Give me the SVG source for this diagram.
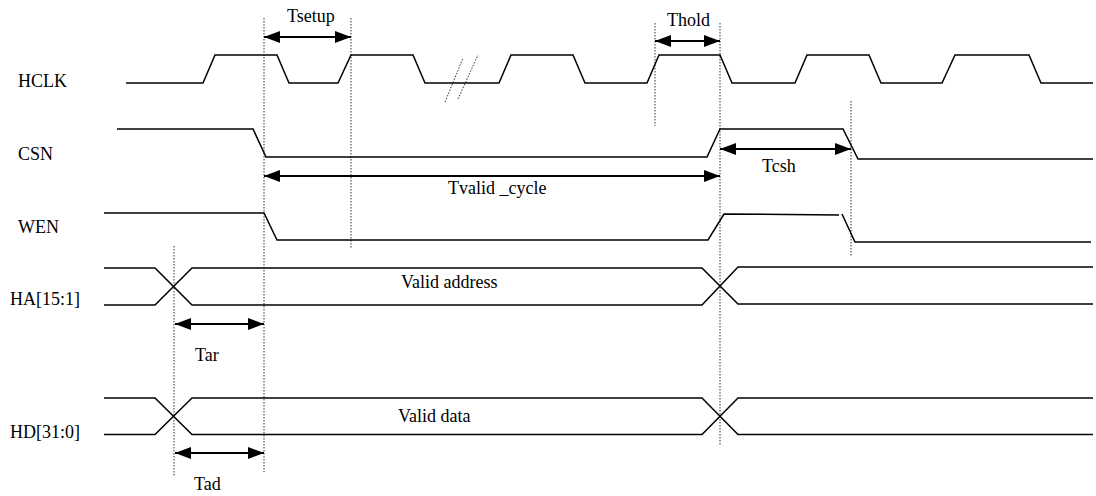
<svg xmlns="http://www.w3.org/2000/svg" width="1096" height="496" viewBox="0 0 1096 496">
<style>
.sig{fill:none;stroke:#000;stroke-width:1.5;stroke-linejoin:miter}
.dot{fill:none;stroke:#333;stroke-width:1;stroke-dasharray:1.5,1.5}
.dim{fill:none;stroke:#000;stroke-width:2;marker-start:url(#ah);marker-end:url(#ah)}
text{font-family:"Liberation Serif","Times New Roman",serif;font-size:18px;fill:#000}
</style>
<defs>
<marker id="ah" viewBox="0 0 16 12" refX="16" refY="6" markerWidth="16" markerHeight="12" markerUnits="userSpaceOnUse" orient="auto-start-reverse">
<path d="M0,0 L16,6 L0,12 z" fill="#000"/>
</marker>
</defs>
<rect width="1096" height="496" fill="#fff"/>

<g id="guides">
<line class="dot" x1="264" y1="18" x2="264" y2="472"/>
<line class="dot" x1="351" y1="18" x2="351" y2="248"/>
<line class="dot" x1="655" y1="23" x2="655" y2="126"/>
<line class="dot" x1="720" y1="23" x2="720" y2="445"/>
<line class="dot" x1="851" y1="101" x2="851" y2="257"/>
<line class="dot" x1="174" y1="246" x2="174" y2="476"/>
<line class="dot" x1="445" y1="102" x2="463" y2="58"/>
<line class="dot" x1="458" y1="99" x2="478" y2="55"/>
</g>

<g id="HCLK">
<text x="18" y="87">HCLK</text>
<path class="sig" d="M126,83 L203,83 L215,55 L277,55 L289,83 L338,83 L351,55 L413,55 L425,83 L499,83 L511,55 L573,55 L585,83 L647,83 L659,55 L720,55 L732,83 L795,83 L807,55 L869,55 L881,83 L942,83 L955,55 L1029,55 L1041,83 L1093,83"/>
</g>

<g id="CSN">
<text x="18" y="160">CSN</text>
<path class="sig" d="M117,129 L253,129 L266,157 L707,157 L720,129 L843,129 L858,159 L1093,159"/>
</g>

<g id="WEN">
<text x="18" y="233">WEN</text>
<path class="sig" d="M104,213 L264,213 L277,240 L708,240 L724,214 L839,215"/>
<path class="sig" d="M842,214 L855,242 L1091,242"/>
</g>

<g id="HA">
<text x="10" y="305">HA[15:1]</text>
<path class="sig" d="M104,268 L155,268 L192,305 L702,305 L738,267 L1093,267"/>
<path class="sig" d="M104,305 L155,305 L192,268 L702,268 L738,304 L1093,304"/>
<text x="401" y="288">Valid address</text>
</g>

<g id="HD">
<text x="10" y="438">HD[31:0]</text>
<path class="sig" d="M104,398 L155,398 L192,434.5 L702,434.5 L738,398 L1093,398"/>
<path class="sig" d="M104,434.5 L155,434.5 L192,398 L702,398 L738,434.5 L1093,434.5"/>
<text x="398" y="422">Valid data</text>
</g>

<g id="connectors">
<line class="dim" x1="264" y1="37" x2="351" y2="37"/>
<line class="dim" x1="655" y1="41" x2="720" y2="41"/>
<line class="dim" x1="720" y1="149" x2="851" y2="149"/>
<line class="dim" x1="264" y1="176" x2="720" y2="176"/>
<line class="dim" x1="175" y1="324" x2="264" y2="324"/>
<line class="dim" x1="175" y1="453" x2="264" y2="453"/>
</g>

<g id="labels">
<text x="287" y="22">Tsetup</text>
<text x="667" y="26">Thold</text>
<text x="762" y="172">Tcsh</text>
<text x="448" y="194">Tvalid _cycle</text>
<text x="195" y="361">Tar</text>
<text x="194" y="490">Tad</text>
</g>
</svg>
